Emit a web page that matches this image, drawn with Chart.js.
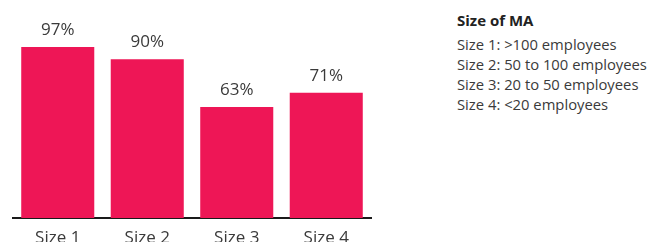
<!DOCTYPE html>
<html>
<head>
<meta charset="utf-8">
<script src="https://cdn.jsdelivr.net/npm/chart.js@4"></script>
<style>
  html, body { margin: 0; padding: 0; background: #fff; overflow: hidden; }
  body { width: 650px; height: 242px; position: relative; font-family: "Open Sans", sans-serif; color: #333; }
  #wrap { position: absolute; left: 0; top: 0; width: 385px; height: 250px; }
  .key { position: absolute; left: 457px; white-space: nowrap; }
  #keyTitle { top: 11.2px; font-size: 15px; line-height: 18px; font-weight: bold; color: #222; }
  #keyLines { top: 34.3px; font-size: 14.8px; line-height: 20px; color: #3a3a3a; }
</style>
</head>
<body>
<div id="wrap"><canvas id="chart"></canvas></div>
<div class="key" id="keyTitle"></div>
<div class="key" id="keyLines"></div>
<script>
const categories = ['Size 1', 'Size 2', 'Size 3', 'Size 4'];
const shares = [97, 90, 63, 71];
const keyTitle = 'Size of MA';
const keyLabels = [
  'Size 1: >100 employees',
  'Size 2: 50 to 100 employees',
  'Size 3: 20 to 50 employees',
  'Size 4: <20 employees'
];

document.getElementById('keyTitle').textContent = keyTitle;
document.getElementById('keyLines').innerHTML = keyLabels
  .map((t) => `<div>${t.replace(/</g, '&lt;').replace(/>/g, '&gt;')}</div>`)
  .join('');

// percentage labels sitting above each bar
const valueLabels = {
  id: 'valueLabels',
  afterDatasetsDraw(chart) {
    const ctx = chart.ctx;
    const meta = chart.getDatasetMeta(0);
    ctx.save();
    ctx.font = '17px "Open Sans", sans-serif';
    ctx.fillStyle = '#3a3a3a';
    ctx.textAlign = 'center';
    ctx.textBaseline = 'alphabetic';
    meta.data.forEach((bar, i) => {
      ctx.fillText(shares[i] + '%', bar.x, bar.y - 12);
    });
    ctx.restore();
  }
};

new Chart(document.getElementById('chart'), {
  type: 'bar',
  data: {
    labels: categories,
    datasets: [{
      data: shares,
      backgroundColor: '#ee1656',
      borderWidth: 0,
      barPercentage: 0.816,
      categoryPercentage: 1
    }]
  },
  options: {
    responsive: true,
    maintainAspectRatio: false,
    animation: false,
    events: [],
    layout: { padding: { top: 41.7, left: 13, right: 14, bottom: 0 } },
    plugins: { legend: { display: false }, tooltip: { enabled: false } },
    scales: {
      x: {
        grid: { display: false, drawTicks: false },
        border: { display: true, color: '#1a1a1a', width: 2 },
        ticks: { color: '#3a3a3a', font: { family: '"Open Sans", sans-serif', size: 17 }, padding: 10 },
        afterFit(scale) { scale.height = 32; }
      },
      y: { display: false, min: 0, max: 100 }
    }
  },
  plugins: [valueLabels]
});
</script>
</body>
</html>
